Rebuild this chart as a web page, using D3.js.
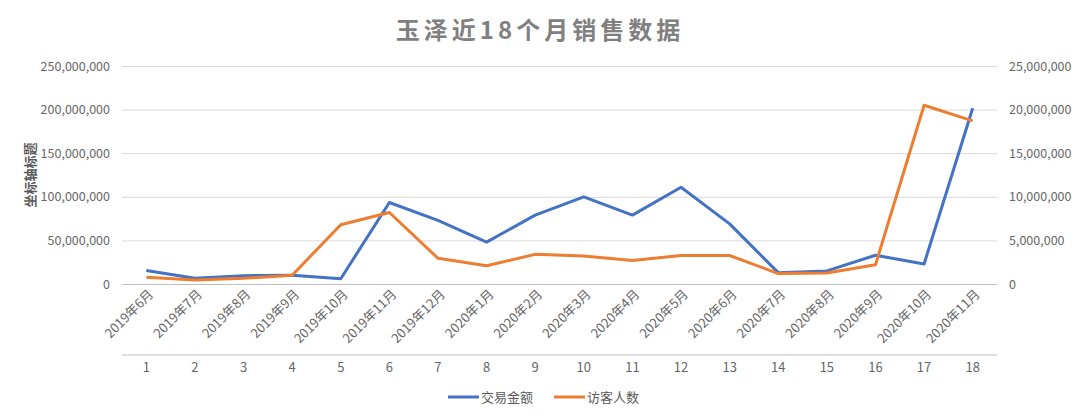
<!DOCTYPE html>
<html>
<head>
<meta charset="utf-8">
<script src="https://cdn.jsdelivr.net/npm/d3@7"></script>
<style>
  body { margin: 0; background: #fff; }
  text { font-family: "Noto Sans CJK SC", "Noto Sans", sans-serif; }
</style>
</head>
<body>
<div id="vis"></div>
<script>
// chart data
var months = ["2019年6月", "2019年7月", "2019年8月", "2019年9月", "2019年10月", "2019年11月",
    "2019年12月", "2020年1月", "2020年2月", "2020年3月", "2020年4月", "2020年5月",
    "2020年6月", "2020年7月", "2020年8月", "2020年9月", "2020年10月", "2020年11月"];
var indexLabels = ["1", "2", "3", "4", "5", "6", "7", "8", "9", "10", "11", "12", "13", "14", "15", "16", "17", "18"];
var amount = [15500000, 6500000, 9500000, 10000000, 6000000, 93500000, 73000000, 48000000, 79000000,
    100000000, 79000000, 111000000, 69000000, 13000000, 15000000, 33000000, 23000000, 201500000];
var visitors = [770000, 460000, 650000, 1000000, 6800000, 8200000, 2950000, 2100000, 3400000,
    3200000, 2700000, 3270000, 3270000, 1200000, 1250000, 2200000, 20500000, 18700000];
var leftTicks = [0, 50000000, 100000000, 150000000, 200000000, 250000000];
var rightTicks = [0, 5000000, 10000000, 15000000, 20000000, 25000000];
var seriesNames = ["交易金额", "访客人数"];

var width = 1080;
var height = 417;

var margin = { top: 66, left: 122, right: 83, bottom: 133 };

var svg = d3.select("#vis")
    .append("svg")
    .attr("width", width)
    .attr("height", height);

var w = width - margin.left - margin.right;
var h = height - margin.top - margin.bottom;

var g = svg.append("g")
    .attr("transform", "translate(" + margin.left + "," + margin.top + ")");

var xscale = d3.scaleBand()
    .domain(d3.range(months.length))
    .range([0, w]);

var yLeft = d3.scaleLinear().domain([0, 250000000]).range([h, 0]);
var yRight = d3.scaleLinear().domain([0, 25000000]).range([h, 0]);

var fmt = d3.format(",");

// title
svg.append("text")
    .attr("x", width / 2)
    .attr("y", 39)
    .attr("text-anchor", "middle")
    .style("font-size", "24px")
    .style("font-weight", "bold")
    .style("letter-spacing", "4px")
    .style("fill", "#808080")
    .text("玉泽近18个月销售数据");

// left axis + gridlines
var la = g.append("g")
    .call(d3.axisLeft(yLeft).tickValues(leftTicks).tickSize(-w).tickPadding(12).tickFormat(fmt));
la.select(".domain").remove();
la.selectAll("line").attr("stroke", "#d9d9d9");
la.selectAll("line").filter(function(d) { return d === 0; }).attr("stroke", "#bfbfbf");
la.selectAll("text").style("font-size", "12.5px").style("fill", "#666");

// right axis
var ra = g.append("g")
    .attr("transform", "translate(" + w + ",0)")
    .call(d3.axisRight(yRight).tickValues(rightTicks).tickSize(0).tickPadding(12).tickFormat(fmt));
ra.select(".domain").remove();
ra.selectAll("text").style("font-size", "12.5px").style("fill", "#666");

// y axis title
svg.append("text")
    .attr("transform", "translate(35,175) rotate(-90)")
    .attr("text-anchor", "middle")
    .style("font-size", "13px")
    .style("font-weight", "bold")
    .style("fill", "#595959")
    .text("坐标轴标题");

// month labels (rotated)
var ma = g.append("g")
    .attr("transform", "translate(0," + h + ")")
    .call(d3.axisBottom(xscale).tickSize(0).tickFormat(function(d) { return months[d]; }));
ma.select(".domain").remove();
ma.selectAll("text")
    .attr("text-anchor", "end")
    .attr("dy", null)
    .attr("y", 0)
    .attr("transform", "translate(8,11) rotate(-45)")
    .style("font-size", "13px")
    .style("fill", "#666");

// second category row
var rowY = h + 71;
g.append("line")
    .attr("x1", 0).attr("x2", w)
    .attr("y1", rowY).attr("y2", rowY)
    .attr("stroke", "#bfbfbf");

var ia = g.append("g")
    .attr("transform", "translate(0," + rowY + ")")
    .call(d3.axisBottom(xscale).tickSize(0).tickPadding(8).tickFormat(function(d) { return indexLabels[d]; }));
ia.select(".domain").remove();
ia.selectAll("text").style("font-size", "13px").style("fill", "#666");

// lines
var cx = function(d, i) { return xscale(i) + xscale.bandwidth() / 2; };

var lineLeft = d3.line().x(cx).y(function(d) { return yLeft(d); });
var lineRight = d3.line().x(cx).y(function(d) { return yRight(d); });

g.append("path")
    .datum(amount)
    .attr("fill", "none")
    .attr("stroke", "#4472C4")
    .attr("stroke-width", 3)
    .attr("stroke-linejoin", "round")
    .attr("d", lineLeft);

g.append("path")
    .datum(visitors)
    .attr("fill", "none")
    .attr("stroke", "#ED7D31")
    .attr("stroke-width", 3)
    .attr("stroke-linejoin", "round")
    .attr("d", lineRight);

// legend
var legendColors = ["#4472C4", "#ED7D31"];
var legend = svg.append("g")
    .attr("transform", "translate(448,397)");

legend.selectAll(".lg")
    .data(seriesNames)
    .enter()
    .append("g")
    .attr("class", "lg")
    .attr("transform", function(d, i) { return "translate(" + (i * 106) + ",0)"; })
    .each(function(d, i) {
        var el = d3.select(this);
        el.append("line")
            .attr("x1", 0).attr("x2", 31)
            .attr("stroke", legendColors[i])
            .attr("stroke-width", 3);
        el.append("text")
            .attr("x", 33)
            .attr("dy", "0.35em")
            .style("font-size", "13px")
            .style("fill", "#595959")
            .text(d);
    });
</script>
</body>
</html>
